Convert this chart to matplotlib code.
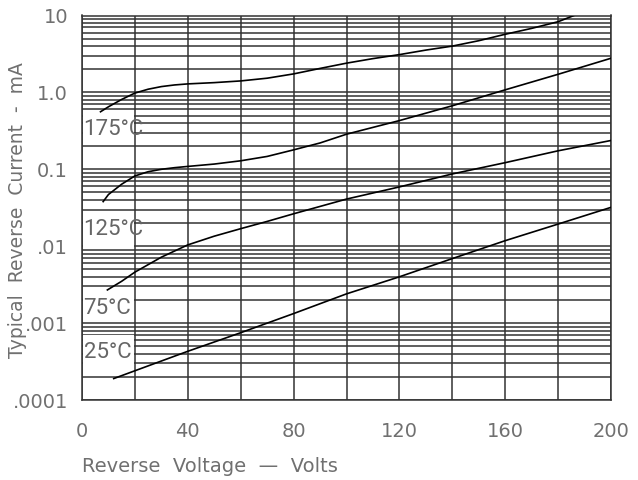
import numpy as np
import matplotlib
matplotlib.use("Agg")
import matplotlib.pyplot as plt
from matplotlib.patches import Rectangle

# reverse current vs reverse voltage, one curve per junction temperature
v_175 = [7, 10, 15, 20, 25, 30, 35, 40, 50, 60, 70, 80, 90, 100, 110, 120, 130, 140, 150, 160, 170, 180, 186]
i_175 = [0.56, 0.65, 0.81, 0.98, 1.1, 1.19, 1.25, 1.29, 1.34, 1.41, 1.53, 1.74, 2.05, 2.4, 2.75, 3.1, 3.55, 4.0, 4.7, 5.7, 6.8, 8.3, 10.0]

v_125 = [8, 10, 15, 20, 25, 30, 35, 40, 50, 60, 70, 80, 90, 100, 120, 140, 160, 180, 200]
i_125 = [0.038, 0.047, 0.064, 0.082, 0.093, 0.1, 0.105, 0.109, 0.117, 0.129, 0.147, 0.179, 0.22, 0.286, 0.43, 0.67, 1.08, 1.72, 2.78]

v_75 = [9.6, 15, 20, 30, 40, 50, 60, 70, 80, 100, 120, 140, 160, 180, 200]
i_75 = [0.0027, 0.0035, 0.0046, 0.0072, 0.0104, 0.0135, 0.0169, 0.021, 0.0264, 0.041, 0.059, 0.087, 0.122, 0.174, 0.237]

v_25 = [12, 20, 40, 60, 80, 100, 120, 140, 160, 180, 200]
i_25 = [0.00019, 0.00024, 0.00043, 0.00075, 0.00133, 0.0024, 0.0040, 0.0069, 0.0118, 0.0194, 0.032]

temp_labels = ["175°C", "125°C", "75°C", "25°C"]
label_y = [0.33, 0.0165, 0.00155, 0.00042]
label_box = [(0.22, 0.52), (0.0095, 0.0265), (0.00105, 0.0023), (0.00021, 0.00069)]

x_ticks = [0, 40, 80, 120, 160, 200]
y_ticks = [1e1, 1e0, 1e-1, 1e-2, 1e-3, 1e-4]
y_tick_labels = ["10", "1.0", "0.1", ".01", ".001", ".0001"]

grid_c = "#333333"
text_c = "#707070"

fig = plt.figure(figsize=(6.38, 4.8), dpi=100)
ax = fig.add_axes([82 / 638, 1 - 400 / 480, 529 / 638, 384.5 / 480])
ax.set_yscale("log")
ax.set_xlim(0, 200)
ax.set_ylim(1e-4, 10)

# graph-paper grid
for v in range(0, 201, 20):
    ax.axvline(v, color=grid_c, lw=1.1, zorder=1)
for d in range(-4, 1):
    for m in range(1, 10):
        ax.axhline(m * 10.0 ** d, color=grid_c, lw=1.1, zorder=1)

for v, i in [(v_175, i_175), (v_125, i_125), (v_75, i_75), (v_25, i_25)]:
    ax.plot(v, i, color="black", lw=1.2, zorder=3)

for lab, y, (lo, hi) in zip(temp_labels, label_y, label_box):
    ax.add_patch(Rectangle((0.4, lo), 19.2, hi - lo, fc="white", ec="none", zorder=2))
    ax.text(0.6, y, lab, color="#666666", fontsize=16, va="center", ha="left", zorder=4,
            family=["Roboto", "DejaVu Sans"])

for s in ax.spines.values():
    s.set_color(grid_c)
    s.set_linewidth(1.1)

ax.set_xticks(x_ticks)
ax.set_xticklabels([str(t) for t in x_ticks])
ax.set_yticks(y_ticks)
ax.set_yticklabels(y_tick_labels)
ax.yaxis.set_minor_locator(matplotlib.ticker.NullLocator())
ax.tick_params(axis="both", length=0, labelsize=14, labelcolor=text_c)
ax.tick_params(axis="x", pad=16)
ax.tick_params(axis="y", pad=10)

fig.text(82 / 638, 1 - 467 / 480, "Reverse  Voltage  —  Volts", color=text_c,
         fontsize=14, ha="left", va="center")
fig.text(18 / 638, 1 - 210 / 480, "Typical  Reverse  Current  -  mA", color=text_c,
         fontsize=13.5, ha="center", va="center", rotation=90)

fig.savefig("out.png", dpi=100, facecolor="white")
